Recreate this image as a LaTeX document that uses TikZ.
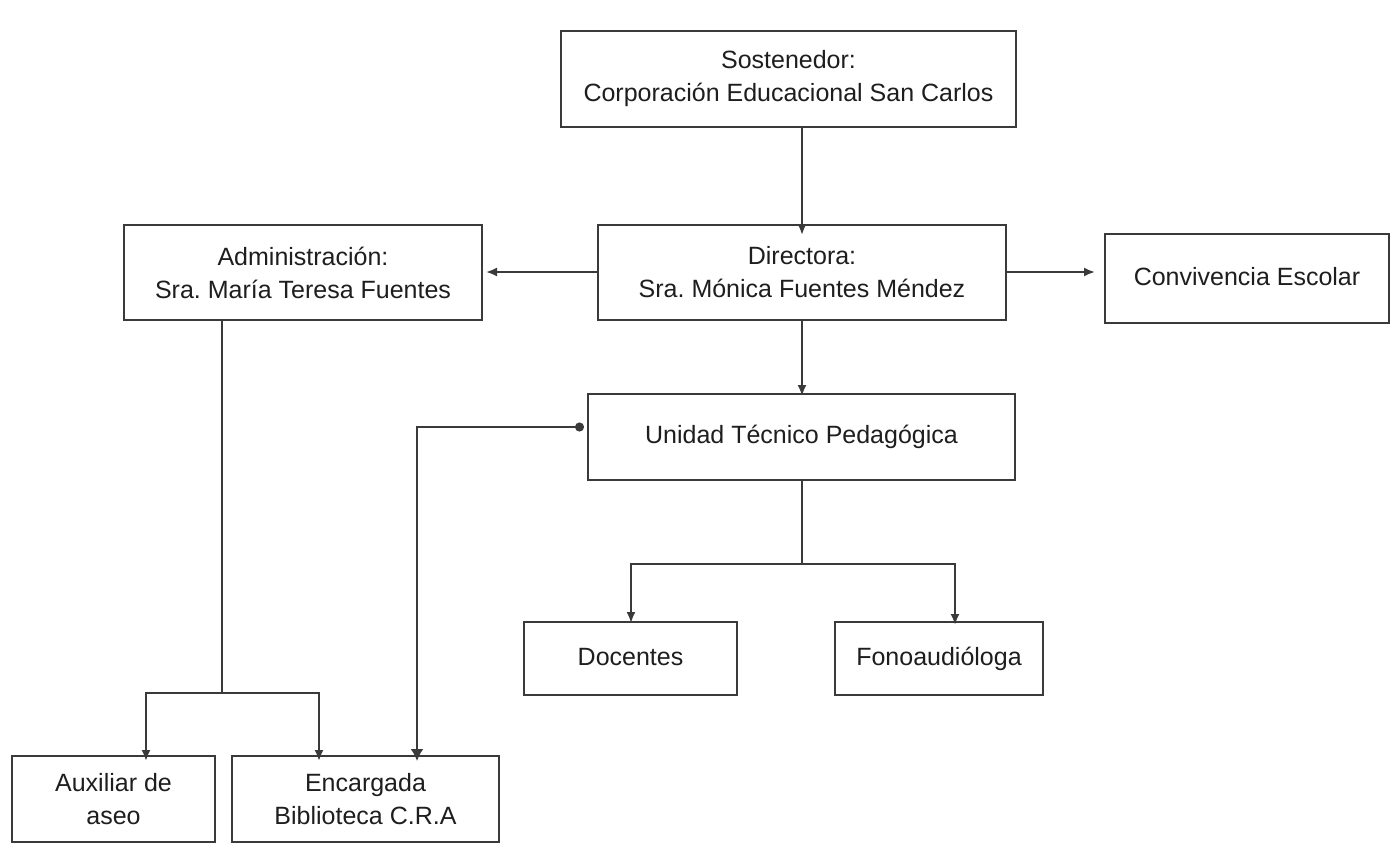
\documentclass[tikz,border=0pt]{standalone}
\usepackage{fontspec}
\setmainfont{Liberation Sans}
\usetikzlibrary{arrows.meta}
\definecolor{txt}{HTML}{1E1E1E}
\definecolor{edge}{HTML}{3A3A3A}
\frenchspacing
\begin{document}
\begin{tikzpicture}[x=1pt,y=-1pt,
  box/.style={draw=edge,line width=2pt,fill=white,text=txt,align=center,inner sep=0pt,
    font=\fontsize{25}{33}\selectfont},
  conn/.style={draw=edge,line width=2pt},
  arr/.style={conn,-{Latex[length=11pt,width=9pt]}},
]
\useasboundingbox[fill=white] (0,0) rectangle (1392,849);
\node[box,minimum width=455pt,minimum height=96pt] (sost) at (788.5,79) {Sostenedor:\\Corporación Educacional San Carlos};
\node[box,minimum width=408pt,minimum height=95pt] (dir) at (802,272.5) {Directora:\\Sra. Mónica Fuentes Méndez};
\node[box,minimum width=358pt,minimum height=95pt] (adm) at (303,272.5) {Administración:\\Sra. María Teresa Fuentes};
\node[box,minimum width=284pt,minimum height=89pt] (conv) at (1247,278.5) {\strut Convivencia Escolar};
\node[box,minimum width=427pt,minimum height=86pt] (utp) at (801.5,437) {\strut Unidad Técnico Pedagógica};
\node[box,minimum width=213pt,minimum height=73pt] (doc) at (630.5,658.5) {\strut Docentes};
\node[box,minimum width=208pt,minimum height=73pt] (fono) at (939,658.5) {\strut Fonoaudióloga};
\node[box,minimum width=203pt,minimum height=86pt] (aux) at (113.5,799) {Auxiliar de\\aseo};
\node[box,minimum width=267pt,minimum height=86pt] (enc) at (365.5,799) {Encargada\\Biblioteca C.R.A};

% Sostenedor -> Directora
\draw[arr] (sost.south -| 802,0) -- ([yshift=-11pt]dir.north -| 802,0);
% Directora -> Administración
\draw[arr] (dir.west |- 0,272) -- ([xshift=3pt]adm.east |- 0,272);
% Directora -> Convivencia
\draw[arr] (dir.east |- 0,272) -- ([xshift=-9pt]conv.west |- 0,272);
% Directora -> UTP
\draw[arr] (dir.south) -- ([yshift=-3pt]utp.north -| dir.south);
% UTP -> Docentes, Fono
\coordinate (utpj) at (802,564);
\draw[conn] (utp.south -| utpj) -- (utpj);
\draw[arr] (utpj) -| ([yshift=-2pt]doc.north -| 631,0);
\draw[arr] (utpj) -| ([yshift=-4pt]fono.north -| 955,0);
% Administración -> Auxiliar, Encargada
\coordinate (admj) at (222,693);
\draw[conn] (adm.south -| admj) -- (admj);
\draw[arr] (admj) -| ([yshift=-6pt]aux.north -| 146,0);
\draw[arr] (admj) -| ([yshift=-6pt]enc.north -| 319,0);
% UTP <-> Encargada
\coordinate (bend) at (417,427);
\draw[conn,{Circle[length=9pt]}-{Latex[length=12pt,width=13pt]}] ([xshift=-3pt]utp.west |- bend) -- (bend) -- ([yshift=-6pt]enc.north -| bend);
\end{tikzpicture}
\end{document}
